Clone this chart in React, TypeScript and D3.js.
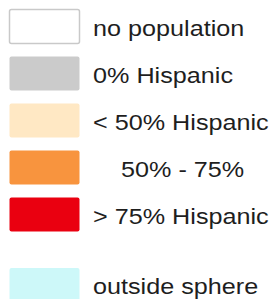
import React from 'react';
import * as d3 from 'd3';

// legend entries
const labels = [
  'no population',
  '0% Hispanic',
  '< 50% Hispanic',
  '\u00a0\u00a0\u00a0\u00a050% - 75%',
  '> 75% Hispanic',
  'outside sphere',
];
const colors = ['#ffffff', '#cbcbcb', '#ffe8c4', '#f8943e', '#ea0010', '#cdf8f9'];
// row slot (last row sits after a wider gap)
const slots = [0, 1, 2, 3, 4, 5.5];

const App = () => {
  const Width = 279;
  const Height = 299;
  const swatchW = 71;
  const swatchH = 35;

  const yScale = d3.scaleLinear().domain([0, 1]).range([9, 56]);
  const xSwatch = 9;
  const xText = 93;

  const rows = labels.map((label, i) => {
    const y = yScale(slots[i]);
    return (
      <g key={i}>
        <rect
          x={xSwatch + 0.5}
          y={y + 0.5}
          width={swatchW - 1}
          height={swatchH - 1}
          rx={2}
          fill={colors[i]}
          stroke={i === 0 ? '#c9c9c9' : colors[i]}
          strokeWidth={i === 0 ? 1.5 : 0}
        />
        <text
          transform={`translate(${xText}, ${y + 26.5}) scale(1.12, 1)`}
          style={{ fontFamily: 'Liberation Sans, Arial, sans-serif', fontSize: '22.5px' }}
          fill="#1e1e1e"
        >
          {label}
        </text>
      </g>
    );
  });

  return (
    <svg width={Width} height={Height} style={{ position: 'absolute', left: 0, top: 0, background: '#fff' }}>
      {rows}
    </svg>
  );
};

export default App;
